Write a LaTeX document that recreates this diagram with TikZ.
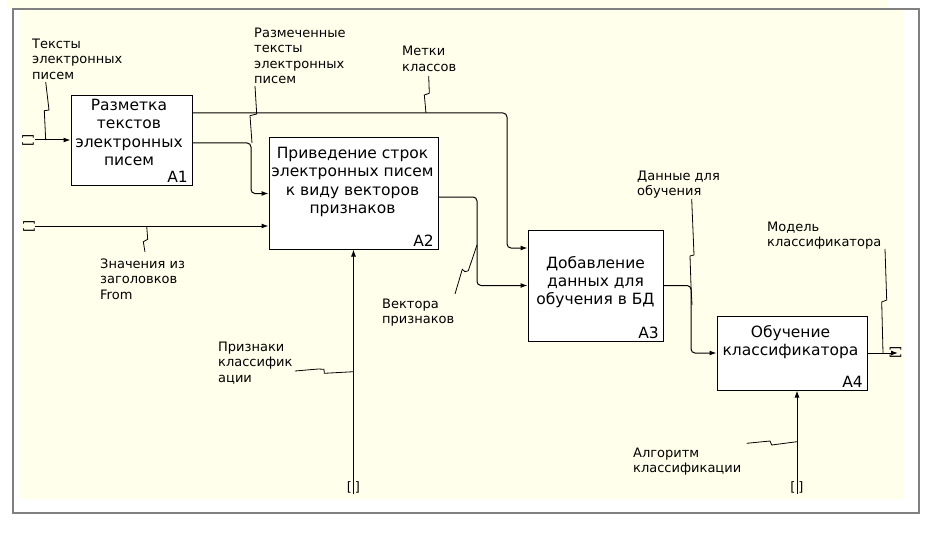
\documentclass[tikz,border=0pt]{standalone}
\usepackage{fontspec}
\setmainfont{DejaVu Sans}
\usetikzlibrary{arrows.meta}
\definecolor{idefbg}{RGB}{255,255,235}
\definecolor{framegray}{RGB}{128,128,128}
\tikzset{
    box/.style={draw, fill=white, line width=1pt, inner sep=0pt},
    boxtext/.style={align=center, inner sep=0pt, anchor=north, font=\fontsize{15.5}{18.3}\selectfont},
    num/.style={anchor=south east, inner xsep=4.5pt, inner ysep=3pt, font=\fontsize{15.5}{18}\selectfont},
    lbl/.style={align=left, inner sep=0pt, anchor=north west, font=\fontsize{13}{15.5}\selectfont},
    tunnel/.style={inner sep=0pt, font=\fontsize{13}{15}\selectfont},
    flow/.style={->, >={Latex[length=7pt,width=5pt]}, line width=1pt, rounded corners=4pt},
    leader/.style={line width=0.8pt},
}
\begin{document}
\begin{tikzpicture}[x=1pt, y=-1pt]
    \useasboundingbox (0,0) rectangle (945,559) ;
    \fill[white] (0,0) rectangle (945,559) ;
    \fill[idefbg] (6,0) rectangle (888,8) ;
    \fill[idefbg] (19,10) rectangle (904,499) ;
    \draw[framegray, line width=2pt] (13,9) rectangle (919,513) ;

    % blocks
    \node[box, minimum width=121pt, minimum height=89pt] (a1) at (131.5,140.5) {} ;
    \node[box, minimum width=169pt, minimum height=111pt] (a2) at (353.5,193.5) {} ;
    \node[box, minimum width=135pt, minimum height=111pt] (a3) at (595.5,285.5) {} ;
    \node[box, minimum width=150pt, minimum height=74pt] (a4) at (792,353) {} ;

    \node[boxtext] (a1t) at (129,99) {Разметка\\текстов\\электронных\\писем} ;
    \node[boxtext] (a2t) at (352.5,147) {Приведение строк\\электронных писем\\к виду векторов\\признаков} ;
    \node[boxtext] (a3t) at (595.5,256) {Добавление\\данных для\\обучения в БД} ;
    \node[boxtext] (a4t) at (790.5,325) {Обучение\\классификатора} ;

    \node[num] (a1n) at (a1.south east) {A1} ;
    \node[num] (a2n) at (a2.south east) {A2} ;
    \node[num] (a3n) at (a3.south east) {A3} ;
    \node[num] (a4n) at (a4.south east) {A4} ;

    % tunnels
    \coordinate (in1) at (35,140) ;
    \coordinate (in2) at (35,226) ;
    \coordinate (mech1) at (353.5,494) ;
    \coordinate (mech2) at (797,494) ;
    \coordinate (out4) at (898,353) ;
    \node[tunnel, rotate=90] (tin1) at (28,140) {[\hspace{2pt}]} ;
    \node[tunnel, rotate=90] (tin2) at (29,226) {[\hspace{2pt}]} ;
    \node[tunnel, rotate=90] (tout4) at (895.5,352.5) {[\hspace{2pt}]} ;
    \node[tunnel] (tmech1) at (353.5,487.5) {[\hspace{3pt}]} ;
    \node[tunnel] (tmech2) at (797,487.5) {[\hspace{3pt}]} ;

    % arrows
    \draw[flow] (in1) -- (in1 -| a1.west) ;
    \draw[flow] ([yshift=27.5pt]a1.east) -- (507,113) -- (507,248) -- ([yshift=37.5pt]a3.west) ;
    \draw[flow] ([yshift=-2.5pt]a1.east) -- (251,143) -- (251,193.5) -- (a2.west) ;
    \draw[flow] (in2) -- (in2 -| a2.west) ;
    \draw[flow] ([yshift=-3.5pt]a2.east) -- (477,197) -- (477,285.5) -- (a3.west) ;
    \draw[flow] (a3.east) -- (691,285.5) -- (691,353) -- (a4.west) ;
    \draw[flow] (a4.east) -- (out4) ;
    \draw[flow] (mech1) -- (a2.south) ;
    \draw[flow] (mech2) -- (mech2 |- a4.south) ;

    % labels
    \node[lbl] (ltexts) at (32,38.5) {Тексты\\электронных\\писем} ;
    \node[lbl] (lmarked) at (254,27.5) {Размеченные\\тексты\\электронных\\писем} ;
    \node[lbl] (lclasses) at (402,46) {Метки\\классов} ;
    \node[lbl] (lfrom) at (100,258.5) {Значения из\\заголовков\\From} ;
    \node[lbl] (lvectors) at (382,298.5) {Вектора\\признаков} ;
    \node[lbl] (ldata) at (637,170.5) {Данные для\\обучения} ;
    \node[lbl] (lmodel) at (767,221.5) {Модель\\классификатора} ;
    \node[lbl] (lfeat) at (218,341.5) {Признаки\\классифик\\ации} ;
    \node[lbl] (lalgo) at (633,447.5) {Алгоритм\\классификации} ;

    % squiggles
    \draw[leader] (45.7,82) -- (49,110) -- (44.3,110.7) -- (45.7,140) ;
    \draw[leader] (255,86) -- (256.7,114) -- (250,115.7) -- (252,143) ;
    \draw[leader] (428.7,76) -- (429.3,93.3) -- (424.3,95) -- (426,113) ;
    \draw[leader] (145,252) -- (143.3,241.7) -- (147.7,239.3) -- (146.7,226) ;
    \draw[leader] (455,294) -- (462.3,269.3) -- (465,271.7) -- (468.3,270.7) -- (477,245) ;
    \draw[leader] (691.7,199) -- (694,255) -- (690,256) -- (691,285.5) -- (692,305) ;
    \draw[leader] (885,249) -- (886.7,300) -- (881.7,302) -- (883,353) ;
    \draw[leader] (295,371) -- (318.3,369) -- (324,369.3) -- (324.3,373.3) -- (353.5,371.7) ;
    \draw[leader] (746.7,443.3) -- (770,441) -- (771.7,445) -- (797,441.7) ;
\end{tikzpicture}
\end{document}
